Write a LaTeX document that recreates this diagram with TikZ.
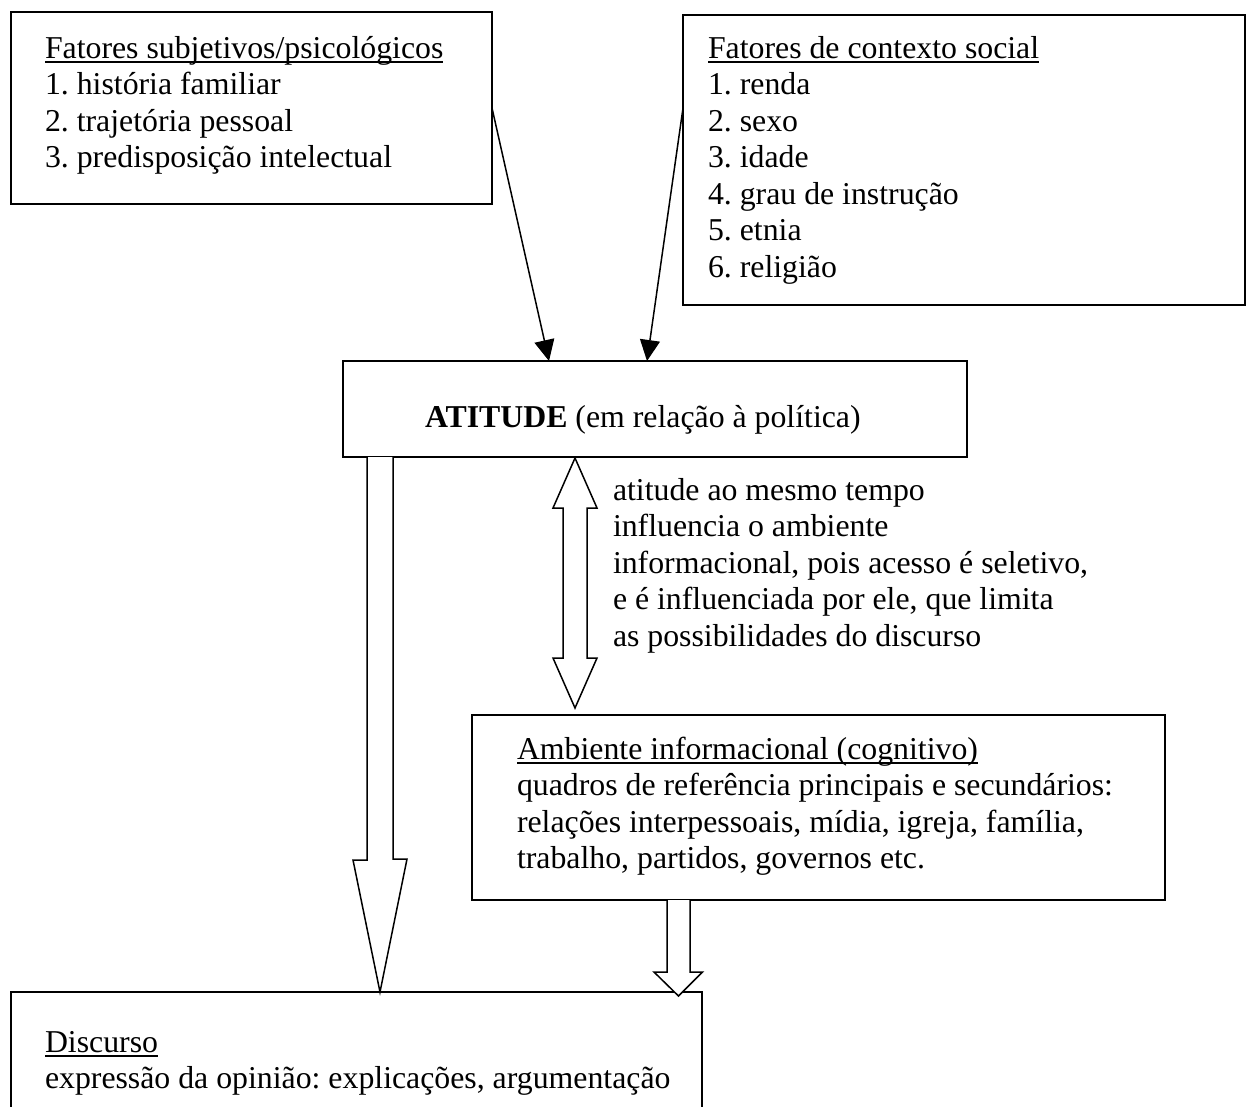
\documentclass[tikz,border=0pt]{standalone}
\usepackage{fontspec}
\setmainfont{Liberation Serif}
\usetikzlibrary{arrows.meta,calc}
\frenchspacing
\tikzset{
  boxnode/.style={draw, line width=1.5pt, rectangle, inner sep=0pt, outer sep=0pt, anchor=north west},
  txt/.style={anchor=base west, inner sep=0pt, outer sep=0pt, font=\fontsize{31.8pt}{36.5pt}\selectfont},
  ulline/.style={line width=1.7pt},
  thinarrow/.style={line width=1.5pt, -{Triangle[length=21pt,width=20pt]}},
  hollow/.style={draw, fill=white, line width=1.5pt, line join=miter}
}
\begin{document}
\frenchspacing
\begin{tikzpicture}[x=1pt,y=-1pt]
\useasboundingbox (0,0) rectangle (1247,1106);
\clip (0,0) rectangle (1247,1106);
% boxes
\node[boxnode, minimum width=481pt, minimum height=192pt] (lbox) at (11,12) {};
\node[boxnode, minimum width=562pt, minimum height=290pt] (rbox) at (683,15) {};
\node[boxnode, minimum width=624pt, minimum height=96pt] (att) at (343,361) {};
\node[boxnode, minimum width=693pt, minimum height=185pt] (amb) at (472,715) {};
\node[boxnode, minimum width=691pt, minimum height=160pt] (disc) at (11,992) {};
% left box text
\node[txt] (l0) at (45,58) {Fatores subjetivos/psicológicos};
\node[txt] (l1) at (45,94.5) {1. história familiar};
\node[txt] (l2) at (45,131) {2. trajetória pessoal};
\node[txt] (l3) at (45,167.5) {3. predisposição intelectual};
\draw[ulline] ([yshift=-4pt]l0.base west) -- ([yshift=-4pt]l0.base east);
% right box text
\node[txt] (r0) at (708,58) {Fatores de contexto social};
\node[txt] (r1) at (708,94.5) {1. renda};
\node[txt] (r2) at (708,131) {2. sexo};
\node[txt] (r3) at (708,167.5) {3. idade};
\node[txt] (r4) at (708,204) {4. grau de instrução};
\node[txt] (r5) at (708,240.5) {5. etnia};
\node[txt] (r6) at (708,277) {6. religião};
\draw[ulline] ([yshift=-4pt]r0.base west) -- ([yshift=-4pt]r0.base east);
% attitude text
\node[txt] (a0) at (425,427) {\textbf{ATITUDE} (em relação à política)};
% middle text
\node[txt] (m1) at (613,500) {atitude ao mesmo tempo};
\node[txt] (m2) at (613,536.5) {influencia o ambiente};
\node[txt] (m3) at (613,573) {informacional, pois acesso é seletivo,};
\node[txt] (m4) at (613,609.5) {e é influenciada por ele, que limita};
\node[txt] (m5) at (613,646) {as possibilidades do discurso};
% ambiente text
\node[txt] (b0) at (517,759) {Ambiente informacional (cognitivo)};
\node[txt] (b1) at (517,795.5) {quadros de referência principais e secundários:};
\node[txt] (b2) at (517,832) {relações interpessoais, mídia, igreja, família,};
\node[txt] (b3) at (517,868.5) {trabalho, partidos, governos etc.};
\draw[ulline] ([yshift=-4pt]b0.base west) -- ([yshift=-4pt]b0.base east);
% discurso text
\node[txt] (d0) at (45,1052) {Discurso};
\node[txt] (d1) at (45,1088.5) {expressão da opinião: explicações, argumentação};
\draw[ulline] ([yshift=-4pt]d0.base west) -- ([yshift=-4pt]d0.base east);
% thin arrows
\draw[thinarrow] (lbox.east) -- ([xshift=-106pt]att.north);
\draw[thinarrow] (rbox.west |- lbox.east) -- ([xshift=-8pt]att.north);
% hollow arrow ATITUDE -> Discurso
\draw[hollow] ($(att.south west)+(24,0)$) -- ++(0,403) -- ++(-14,0) -- ($(disc.north west)+(369,0)$) -- ++(27,-133) -- ++(-14,0) -- ++(0,-402);
% double hollow arrow
\draw[hollow] ($(att.south west)+(232,1)$) -- ++(22,50) -- ++(-10,0) -- ++(0,150) -- ++(10,0) -- ++(-22,50) -- ++(-22,-50) -- ++(10,0) -- ++(0,-150) -- ++(-10,0) -- cycle;
% small hollow arrow Ambiente -> Discurso
\draw[hollow] ($(amb.south west)+(195,0)$) -- ++(0,72) -- ++(-13,0) -- ($(disc.north east)+(-23.5,4)$) -- ++(24,-24) -- ++(-12.5,0) -- ++(0,-72);
\end{tikzpicture}
\end{document}
